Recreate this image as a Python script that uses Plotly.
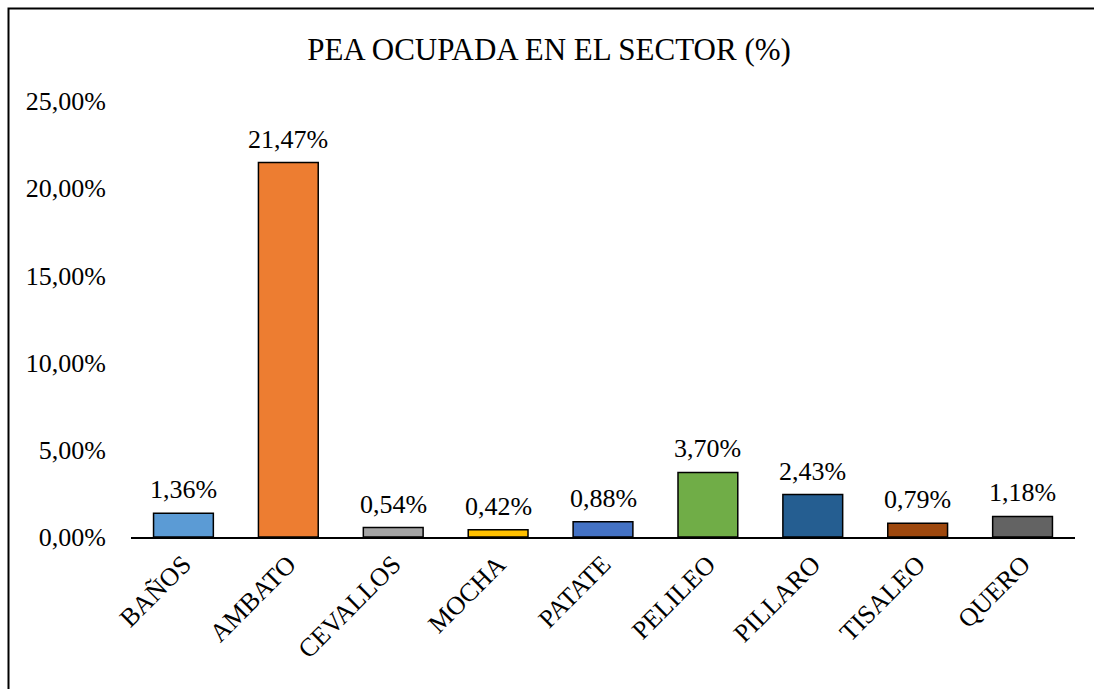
import plotly.graph_objects as go

categories = ["BAÑOS", "AMBATO", "CEVALLOS", "MOCHA", "PATATE", "PELILEO", "PILLARO", "TISALEO", "QUERO"]
values = [1.36, 21.47, 0.54, 0.42, 0.88, 3.70, 2.43, 0.79, 1.18]
colors = ["#5B9BD5", "#ED7D31", "#A5A5A5", "#FFC000", "#4472C4", "#70AD47", "#255E91", "#9E480E", "#636363"]
tick_vals = [0, 5, 10, 15, 20, 25]
tick_text = ["0,00%", "5,00%", "10,00%", "15,00%", "20,00%", "25,00%"]
labels = [f"{v:.2f}%".replace(".", ",") for v in values]

FONT = "Liberation Serif, Times New Roman, serif"

fig = go.Figure(go.Bar(
    x=categories, y=values,
    marker=dict(color=colors, line=dict(color="black", width=1.5)),
    cliponaxis=False,
))

W, H = 1094, 689
l, r, t, b = 131, 19, 101, 152
pw, ph = W - l - r, H - t - b

annotations = [dict(x=c, y=v, text=s, xref="x", yref="y", showarrow=False,
                    yanchor="bottom", yshift=7, font=dict(family=FONT, size=26, color="black"))
               for c, v, s in zip(categories, values, labels)]

fig.update_layout(
    width=W, height=H,
    margin=dict(l=l, r=r, t=t, b=b),
    paper_bgcolor="white", plot_bgcolor="white",
    font=dict(family=FONT, size=26, color="black"),
    title=dict(text="PEA OCUPADA EN EL SECTOR (%)", x=549 / W, xanchor="center",
               y=1 - 49 / H, yanchor="middle", font=dict(family=FONT, size=31, color="black")),
    bargap=0.43,
    showlegend=False,
    xaxis=dict(showline=True, linecolor="black", linewidth=1.5, tickangle=-45,
               ticks="", showgrid=False, tickfont=dict(size=26)),
    yaxis=dict(range=[0, 25], tickvals=tick_vals, ticktext=tick_text, showgrid=False,
               zeroline=False, showline=False, ticks="", ticklabelstandoff=24,
               tickfont=dict(size=26)),
    annotations=annotations,
    shapes=[dict(type="rect", xref="paper", yref="paper",
                 x0=(8.5 - l) / pw, x1=(W + 20 - l) / pw,
                 y0=-(H + 20 - (t + ph)) / ph, y1=(t + ph - 8.5) / ph,
                 line=dict(color="black", width=2), fillcolor="rgba(0,0,0,0)", layer="below")],
)

fig.write_html("out.html", config={"displayModeBar": False})

with open("out.html", "r", encoding="utf-8") as f:
    html = f.read()
html = html.replace("<body>", '<body style="margin:0;padding:0;overflow:hidden">', 1)
with open("out.html", "w", encoding="utf-8") as f:
    f.write(html)
